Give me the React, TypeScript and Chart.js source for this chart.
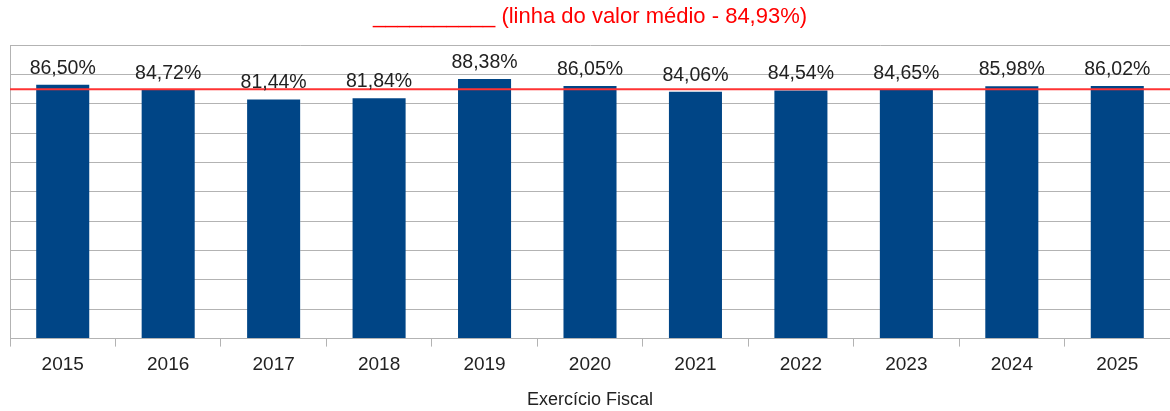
import React, { useEffect, useRef } from "react";
import { Chart, registerables } from "chart.js";

Chart.register(...registerables);

const years = ["2015", "2016", "2017", "2018", "2019", "2020", "2021", "2022", "2023", "2024", "2025"];
const values = [86.5, 84.72, 81.44, 81.84, 88.38, 86.05, 84.06, 84.54, 84.65, 85.98, 86.02];
const averageValue = 84.93;
const titleText = "__________ (linha do valor médio - 84,93%)";
const axisTitle = "Exercício Fiscal";

const FONT = "'Liberation Sans', Arial, sans-serif";

const fmt = (v: number) => v.toFixed(2).replace(".", ",") + "%";

const overlayPlugin = {
  id: "overlay",
  afterDatasetsDraw(chart: any) {
    const { ctx, chartArea, scales } = chart;
    const y = scales.y.getPixelForValue(averageValue);
    ctx.save();
    ctx.strokeStyle = "#ff3333";
    ctx.lineWidth = 2;
    ctx.beginPath();
    ctx.moveTo(chartArea.left, y);
    ctx.lineTo(chartArea.right, y);
    ctx.stroke();

    const meta = chart.getDatasetMeta(0);
    ctx.fillStyle = "#222222";
    ctx.font = `19.5px ${FONT}`;
    ctx.textAlign = "center";
    ctx.textBaseline = "alphabetic";
    meta.data.forEach((bar: any, i: number) => {
      ctx.fillText(fmt(values[i]), bar.x, bar.y - 11);
    });
    ctx.restore();
  },
};

export default function App() {
  const ref = useRef<HTMLCanvasElement | null>(null);
  useEffect(() => {
    if (!ref.current) return;
    const chart = new Chart(ref.current, {
      type: "bar",
      data: {
        labels: years,
        datasets: [
          {
            data: values,
            backgroundColor: "#004586",
            barPercentage: 0.503,
            categoryPercentage: 1,
          },
        ],
      },
      options: {
        animation: false,
        responsive: false,
        maintainAspectRatio: false,
        layout: { padding: { left: 10, right: 0, top: 0, bottom: 0 } },
        plugins: {
          legend: { display: false },
          tooltip: { enabled: false },
          title: {
            display: true,
            text: titleText,
            color: "#ff0000",
            font: { family: FONT, size: 22, weight: "normal" },
            padding: { top: 4, bottom: 14.6 },
          },
        },
        scales: {
          x: {
            offset: true,
            grid: {
              display: true,
              offset: true,
              drawOnChartArea: false,
              drawTicks: true,
              tickLength: 8,
              color: "#b3b3b3",
            },
            border: { display: true, color: "#b3b3b3" },
            ticks: {
              color: "#222222",
              font: { family: FONT, size: 19 },
              padding: 7,
              maxRotation: 0,
            },
            title: {
              display: true,
              text: axisTitle,
              color: "#222222",
              font: { family: FONT, size: 18 },
              padding: { top: 6, bottom: 0 },
            },
          },
          y: {
            min: 0,
            max: 100,
            ticks: { display: false, stepSize: 10 },
            grid: { color: "#b3b3b3", drawTicks: false, lineWidth: 1 },
            border: { display: true, color: "#b3b3b3" },
          },
        },
      },
      plugins: [overlayPlugin],
    });
    return () => chart.destroy();
  }, []);
  return (
    <div style={{ position: "absolute", left: 0, top: 0, width: 1170, height: 411, overflow: "hidden", background: "#fff" }}>
      <canvas ref={ref} width={1170} height={411} style={{ width: 1170, height: 411 }} />
    </div>
  );
}
